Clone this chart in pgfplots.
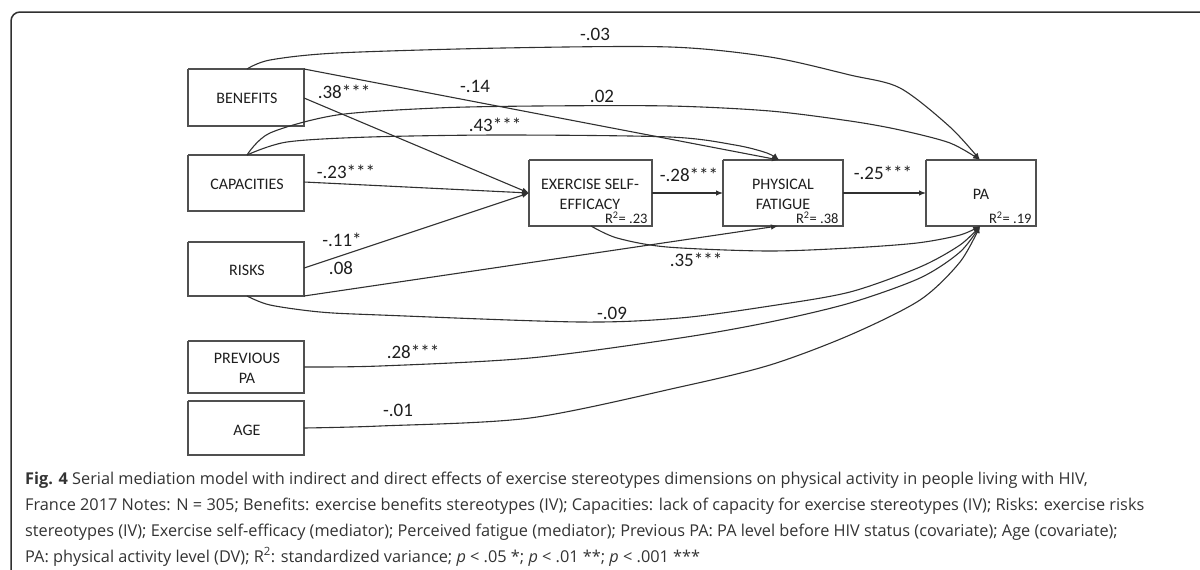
\documentclass[border=0pt]{standalone}
\usepackage{pgfplots}
\pgfplotsset{compat=1.18}
\usepackage{fontspec}
\setmainfont{Carlito}
\newfontfamily\capfont{Open Sans}
\usetikzlibrary{arrows.meta}
\definecolor{ln}{HTML}{303030}
\definecolor{bx}{HTML}{505050}
\definecolor{tx}{HTML}{1E1E1E}
\definecolor{capc}{HTML}{333333}
\tikzset{
  arr/.style={-{Latex[length=7pt,width=5.5pt]}},
  bxs/.style={line width=1.1pt, color=bx},
  lab/.style={font=\fontsize{19}{22}\selectfont, text=tx},
  box/.style={font=\fontsize{16}{20}\selectfont, text=tx, align=center},
  rsq/.style={font=\fontsize{14.5}{16}\selectfont, text=tx, anchor=east},
  capn/.style={anchor=base west, inner sep=0pt, text=capc, font=\capfont\fontsize{16.3}{19}\selectfont},
}
\begin{document}
\begin{tikzpicture}
\begin{axis}[width=1200pt,height=570pt,scale only axis,
  xmin=0,xmax=1200,ymin=0,ymax=570,y dir=reverse,
  hide axis, clip=false,
  every axis plot/.append style={line width=1.1pt, color=ln, mark=none},
  ]
% outer frame
\addplot[line width=1.5pt, color=ln, rounded corners=9pt] coordinates {(11,600) (11,12) (1230,12)};

% boxes
\addplot[bxs] coordinates {(188,69) (304,69) (304,126) (188,126) (188,69)};
\addplot[bxs] coordinates {(188,155) (304,155) (304,211) (188,211) (188,155)};
\addplot[bxs] coordinates {(188,242) (304,242) (304,296) (188,296) (188,242)};
\addplot[bxs] coordinates {(188,341) (304,341) (304,393) (188,393) (188,341)};
\addplot[bxs] coordinates {(188,401) (304,401) (304,455) (188,455) (188,401)};
\addplot[bxs] coordinates {(529,160) (652,160) (652,226) (529,226) (529,160)};
\addplot[bxs] coordinates {(723,160) (843,160) (843,226) (723,226) (723,160)};
\addplot[bxs] coordinates {(926,160) (1036,160) (1036,226) (926,226) (926,160)};

% straight paths
\addplot[arr] coordinates {(304,98) (529,193)};
\addplot[arr] coordinates {(304,182) (529,193)};
\addplot[arr] coordinates {(304,268) (529,193)};
\addplot[arr] coordinates {(304,69) (779,160)};
\addplot[arr] coordinates {(304,296) (778,226)};
\addplot[arr] coordinates {(652,193) (723,193)};
\addplot[arr] coordinates {(843,193) (926,193)};

% curved paths to PA top
\addplot[arr, smooth] coordinates {(247,69) (270,60) (337,53) (503,48) (670,47) (770,57) (850,75) (900,88) (950,127) (980,160)};
\addplot[arr, smooth] coordinates {(247,155) (270,133) (337,115) (437,108) (537,106) (670,106) (770,111) (850,121) (900,130) (950,143) (980,160)};
% curve to PF top
\addplot[arr, smooth] coordinates {(247,155) (287,142) (370,137) (503,135) (670,137) (735,145) (767,153) (779,160)};
% ESE -> PA bottom
\addplot[arr, smooth] coordinates {(591,226) (617,238) (667,247) (767,251) (850,248) (917,243) (960,235) (980,226)};
% RISKS -> PA
\addplot[arr, smooth] coordinates {(247,296) (270,305) (320,312) (380,315) (580,322) (680,318) (770,306) (850,292) (920,267) (960,245) (980,226)};
% PREVIOUS PA -> PA
\addplot[arr, smooth] coordinates {(304,367) (380,366) (530,358) (680,338) (770,322) (850,303) (920,278) (960,252) (980,226)};
% AGE -> PA
\addplot[arr, smooth] coordinates {(304,428) (380,426) (530,418) (680,387) (770,365) (850,335) (920,300) (960,262) (980,226)};

% box texts
\node[box] at (axis cs:247,98) {BENEFITS};
\node[box] at (axis cs:247,184) {CAPACITIES};
\node[box] at (axis cs:247,270) {RISKS};
\node[box] at (axis cs:247,368) {PREVIOUS\\PA};
\node[box] at (axis cs:247,430) {AGE};
\node[box] at (axis cs:590,194) {EXERCISE SELF-\\EFFICACY};
\node[rsq] at (axis cs:651,218) {R\textsuperscript{2}= .23};
\node[box] at (axis cs:783,194) {PHYSICAL\\FATIGUE};
\node[rsq] at (axis cs:842,218) {R\textsuperscript{2}= .38};
\node[box] at (axis cs:981,194) {PA};
\node[rsq] at (axis cs:1035,218) {R\textsuperscript{2}= .19};

% coefficients
\node[lab] at (axis cs:595,34) {-.03};
\node[lab] at (axis cs:475,86) {-.14};
\node[lab] at (axis cs:344,92) {.38***};
\node[lab] at (axis cs:602,96) {.02};
\node[lab] at (axis cs:495,125) {.43***};
\node[lab] at (axis cs:346,172) {-.23***};
\node[lab] at (axis cs:342,240) {-.11*};
\node[lab] at (axis cs:341,268) {.08};
\node[lab] at (axis cs:689,175) {-.28***};
\node[lab] at (axis cs:883,173) {-.25***};
\node[lab] at (axis cs:696,260) {.35***};
\node[lab] at (axis cs:612,313) {-.09};
\node[lab] at (axis cs:413,352) {.28***};
\node[lab] at (axis cs:398,410) {-.01};

% caption
\node[capn] at (axis cs:25,484) {\textbf{Fig. 4} Serial mediation model with indirect and direct effects of exercise stereotypes dimensions on physical activity in people living with HIV,};
\node[capn] at (axis cs:25,510) {France 2017 Notes: N = 305; Benefits: exercise benefits stereotypes (IV); Capacities: lack of capacity for exercise stereotypes (IV); Risks: exercise risks};
\node[capn] at (axis cs:25,536) {stereotypes (IV); Exercise self-efficacy (mediator); Perceived fatigue (mediator); Previous PA: PA level before HIV status (covariate); Age (covariate);};
\node[capn] at (axis cs:25,562) {PA: physical activity level (DV); R\textsuperscript{2}: standardized variance; \textit{p} < .05 *; \textit{p} < .01 **; \textit{p} < .001 ***};
\end{axis}
\pgfresetboundingbox
\useasboundingbox (0,0) rectangle (1200pt,570pt);
\end{tikzpicture}
\end{document}
